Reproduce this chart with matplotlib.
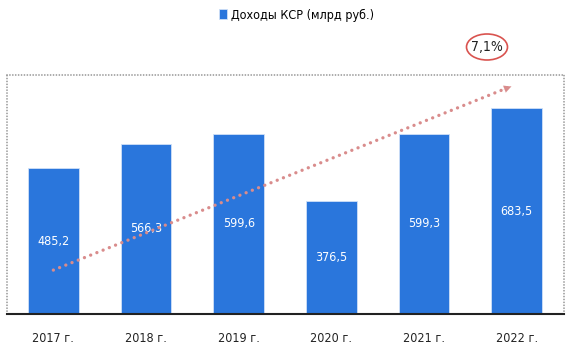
import matplotlib.pyplot as plt
from matplotlib.patches import Ellipse
from matplotlib import font_manager

years = ["2017 г.", "2018 г.", "2019 г.", "2020 г.", "2021 г.", "2022 г."]
income = [485.2, 566.3, 599.6, 376.5, 599.3, 683.5]
value_labels = ["485,2", "566,3", "599,6", "376,5", "599,3", "683,5"]
trend_start = 146
trend_end = 760
growth_label = "7,1%"

# look for a narrow font (Arial Narrow look-alike)
cands = []
for f in font_manager.fontManager.ttflist:
    fn = f.fname
    if ("Narrow" in fn or "Condensed" in fn) and not any(s in fn for s in ["Bold", "Italic", "Oblique"]):
        cands.append(fn)
cands.sort(key=lambda s: (0 if "Liberation" in s else 1, s))
fp = font_manager.FontProperties(fname=cands[0]) if cands else font_manager.FontProperties(family="Liberation Sans")

bar_color = "#2a76dc"

fig = plt.figure(figsize=(5.7, 3.55), dpi=100)
ax = fig.add_axes([0.0123, 0.1155, 0.9772, 0.6735])

x = list(range(len(years)))
ax.bar(x, income, width=0.545, color=bar_color, edgecolor="#cfe0f7", linewidth=0.6,
       label="Доходы КСР (млрд руб.)", zorder=2)
for xi, v, lab in zip(x, income, value_labels):
    ax.text(xi, v / 2, lab, ha="center", va="center", color="white", fontproperties=fp,
            fontsize=9, zorder=3)

# trend arrow: dotted line + head
ax.plot([0, 4.9], [trend_start, trend_end - 8], color="#d98c8c", lw=2.4,
        linestyle=(0, (0.01, 2.0)), dash_capstyle="round", zorder=4)
ax.annotate("", xy=(4.97, trend_end), xytext=(4.82, trend_end - 18),
            arrowprops=dict(arrowstyle="-|>", color="#d98c8c", lw=0.1, mutation_scale=13), zorder=4)

ax.set_xlim(-0.5, 5.51)
ax.set_ylim(0, 795)
ax.set_yticks([])
ax.set_xticks(x)
ax.set_xticklabels(years, fontproperties=fp, fontsize=9, color="#222222")
ax.tick_params(axis="x", length=0, pad=13)

for side in ["left", "top", "right"]:
    ax.spines[side].set_color("#9a9a9a")
    ax.spines[side].set_linestyle((0, (0.01, 1.6)))
    ax.spines[side].set_capstyle("round")
    ax.spines[side].set_linewidth(1.3)
ax.spines["bottom"].set_color("#222222")
ax.spines["bottom"].set_linewidth(1.5)

# growth ellipse
ell = Ellipse((487 / 570, 1 - 47 / 355), 41 / 570, 26 / 355, transform=fig.transFigure,
              fill=False, edgecolor="#d9534f", lw=1.2)
fig.patches.append(ell)
fig.text(487 / 570, 1 - 47 / 355, growth_label, ha="center", va="center", fontproperties=fp,
         fontsize=10, color="#222222")

leg_fp = fp.copy()
leg_fp.set_size(9)
fig.legend(loc="center", bbox_to_anchor=(0.52, 1 - 15 / 355), frameon=False, prop=leg_fp,
           handlelength=0.6, handleheight=0.8, handletextpad=0.3)

fig.savefig("out.png", dpi=100)
